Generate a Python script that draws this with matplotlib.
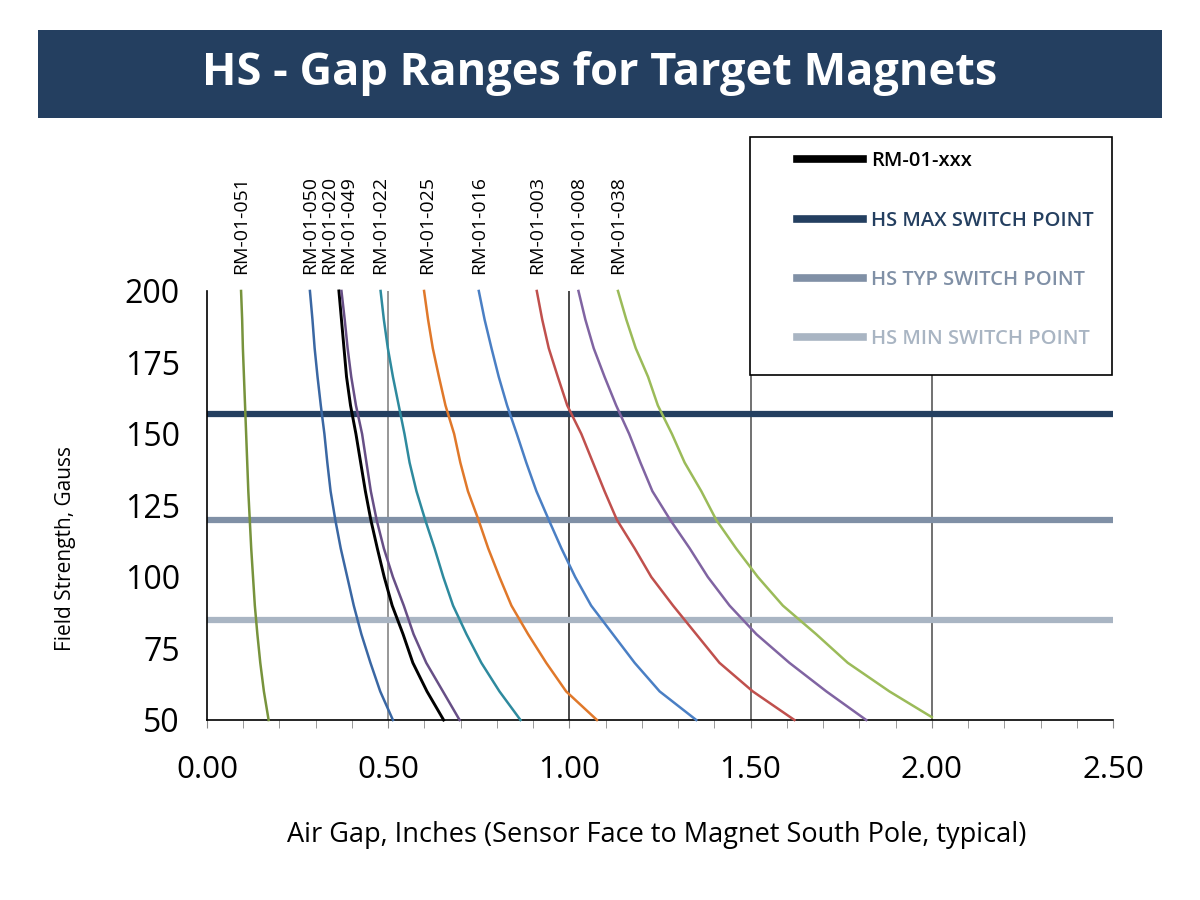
import matplotlib.pyplot as plt
from matplotlib.lines import Line2D
from matplotlib.patches import Rectangle

# field strength (gauss) at which each curve was read
gauss = [200, 190, 180, 170, 160, 150, 140, 130, 120, 110, 100, 90, 80, 70, 60, 50]
gauss_038 = [200, 190, 180, 170, 160, 150, 140, 130, 120, 110, 100, 90, 80, 70, 60, 51]

# air gap (inches) for each magnet at those field strengths
rm_051 = [0.094, 0.097, 0.099, 0.102, 0.105, 0.108, 0.111, 0.114, 0.118, 0.122, 0.127, 0.132, 0.139, 0.147, 0.157, 0.170]
rm_050 = [0.284, 0.291, 0.297, 0.305, 0.314, 0.324, 0.332, 0.341, 0.354, 0.369, 0.387, 0.405, 0.426, 0.451, 0.478, 0.513]
rm_020 = [0.364, 0.371, 0.378, 0.385, 0.396, 0.411, 0.424, 0.437, 0.452, 0.470, 0.489, 0.511, 0.541, 0.568, 0.607, 0.653]
rm_049 = [0.371, 0.380, 0.388, 0.398, 0.411, 0.428, 0.440, 0.452, 0.468, 0.488, 0.513, 0.543, 0.570, 0.605, 0.651, 0.697]
rm_022 = [0.479, 0.488, 0.499, 0.513, 0.529, 0.545, 0.559, 0.578, 0.602, 0.628, 0.652, 0.679, 0.716, 0.757, 0.807, 0.865]
rm_025 = [0.599, 0.610, 0.623, 0.640, 0.658, 0.682, 0.699, 0.720, 0.749, 0.776, 0.807, 0.840, 0.886, 0.936, 0.991, 1.076]
rm_016 = [0.750, 0.766, 0.785, 0.805, 0.828, 0.855, 0.881, 0.909, 0.943, 0.978, 1.016, 1.060, 1.120, 1.180, 1.249, 1.350]
rm_003 = [0.910, 0.925, 0.943, 0.968, 0.994, 1.033, 1.065, 1.097, 1.131, 1.180, 1.226, 1.286, 1.350, 1.414, 1.506, 1.621]
rm_008 = [1.025, 1.044, 1.067, 1.097, 1.129, 1.165, 1.196, 1.229, 1.278, 1.332, 1.382, 1.442, 1.516, 1.607, 1.709, 1.819]
rm_038 = [1.134, 1.157, 1.183, 1.217, 1.244, 1.283, 1.318, 1.364, 1.405, 1.460, 1.520, 1.589, 1.681, 1.768, 1.883, 2.000]

names = ["RM-01-051", "RM-01-050", "RM-01-020", "RM-01-049", "RM-01-022",
         "RM-01-025", "RM-01-016", "RM-01-003", "RM-01-008", "RM-01-038"]
curves = [rm_051, rm_050, rm_020, rm_049, rm_022, rm_025, rm_016, rm_003, rm_008, rm_038]
curve_gauss = [gauss] * 9 + [gauss_038]

# switch points (gauss)
hs_max = 157
hs_typ = 120
hs_min = 85

# styling
colors = ["#77933C", "#3A67A3", "#000000", "#674F86", "#2E8A9E",
          "#E0782A", "#4A7FC4", "#C0504D", "#8064A2", "#9BBB59"]
widths = [1.8, 1.8, 2.1, 1.8, 1.8, 1.8, 1.8, 1.8, 1.8, 1.8]
label_shift = [0, 0, -7, 5, 0, 2, 0, 0, 0, 0]  # points, keeps crowded labels apart
navy = "#243F60"
typ_col = "#8090A6"
min_col = "#A9B5C3"

plt.rcParams['font.family'] = ['Open Sans', 'DejaVu Sans']

fig = plt.figure(figsize=(12, 9), dpi=100)
ax = fig.add_axes([0.1725, 0.2, 0.755, 0.4767])

grid_cols = ["#8f8f8f", "#3a3a3a", "#666666", "#666666"]
for x, gc in zip([0.5, 1.0, 1.5, 2.0], grid_cols):
    ax.axvline(x, color=gc, lw=1.3, zorder=1)

ax.axhline(hs_max, color=navy, lw=4.5, zorder=2)
ax.axhline(hs_typ, color=typ_col, lw=4.5, zorder=2)
ax.axhline(hs_min, color=min_col, lw=4.5, zorder=2)

for name, xs, ys, c, w, dx in zip(names, curves, curve_gauss, colors, widths, label_shift):
    ax.plot(xs, ys, color=c, lw=w, zorder=3, clip_on=False)
    ax.annotate(name, xy=(xs[0], 1.0), xycoords=("data", "axes fraction"),
                xytext=(dx, 12), textcoords="offset points",
                rotation=90, ha="center", va="bottom", fontsize=14)

ax.set_xlim(0, 2.5)
ax.set_ylim(50, 200)
ax.set_xticks([0, 0.5, 1.0, 1.5, 2.0, 2.5])
ax.set_xticks([i / 10 for i in range(26)], minor=True)
ax.xaxis.set_major_formatter(plt.FormatStrFormatter('%.2f'))
ax.set_yticks([50, 75, 100, 125, 150, 175, 200])
ax.tick_params(axis='x', which='both', direction='out', length=6, color='#888888',
               labelsize=22.5, pad=19)
ax.tick_params(axis='y', length=0, labelsize=23, pad=19.5)

for s in ['top', 'right']:
    ax.spines[s].set_visible(False)
ax.spines['left'].set_color('black')
ax.spines['bottom'].set_color('black')
ax.spines['left'].set_linewidth(1.2)
ax.spines['bottom'].set_linewidth(1.2)

fig.text(0.055, 0.391, "Field Strength, Gauss", rotation=90, ha='center', va='center', fontsize=15)
fig.text(0.5475, 0.072, "Air Gap, Inches (Sensor Face to Magnet South Pole, typical)",
         ha='center', va='center', fontsize=19.5)

# title banner
fig.add_artist(Rectangle((0.0317, 0.8689), 0.9367, 0.0978, transform=fig.transFigure,
                         facecolor=navy, edgecolor='none'))
fig.text(0.5, 0.918, "HS - Gap Ranges for Target Magnets", ha='center', va='center',
         color='white', fontsize=32.5, fontweight='bold')

# legend box
fig.add_artist(Rectangle((0.625, 0.583), 0.302, 0.265, transform=fig.transFigure,
                         facecolor='white', edgecolor='black', lw=1.2, zorder=4))
handles = [Line2D([], [], color='black', lw=5.5),
           Line2D([], [], color=navy, lw=5.5),
           Line2D([], [], color=typ_col, lw=5.5),
           Line2D([], [], color=min_col, lw=5.5)]
labels = ["RM-01-xxx", "HS MAX SWITCH POINT", "HS TYP SWITCH POINT", "HS MIN SWITCH POINT"]
leg = fig.legend(handles, labels, loc='upper left', bbox_to_anchor=(0.649, 0.852),
                 frameon=False, handlelength=3.3, handletextpad=0.4,
                 labelspacing=1.95, labelcolor=['black', navy, typ_col, min_col],
                 prop={'weight': 'semibold', 'size': 14.5})
leg.set_zorder(5)

plt.savefig('out.png')
plt.close()
